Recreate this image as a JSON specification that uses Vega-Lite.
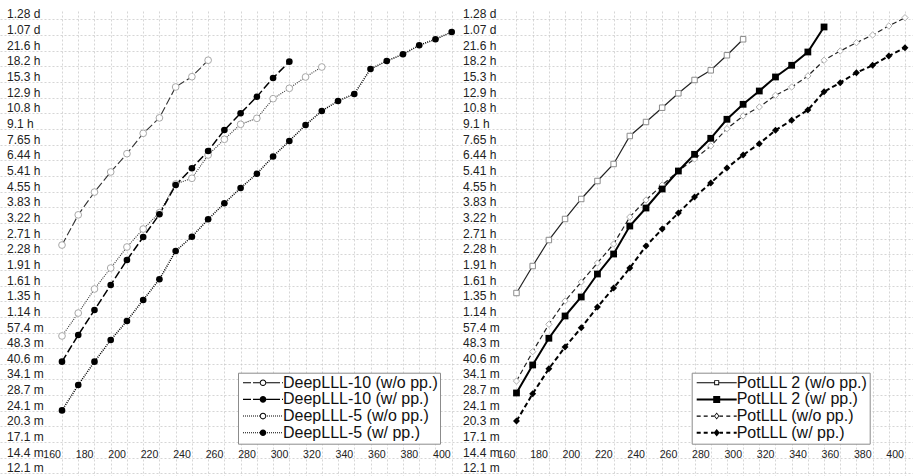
{
  "$schema": "https://vega.github.io/schema/vega-lite/v6.json",
  "background": "white",
  "padding": {"left": 0, "right": 0, "top": 7, "bottom": 0},
  "spacing": 0,
  "resolve": {"scale": {"shape": "independent"}, "legend": {"shape": "independent"}},
  "config": {
    "view": {"stroke": null},
    "font": "Liberation Sans",
    "axis": {
      "labelFont": "Liberation Sans",
      "labelFontSize": 12,
      "labelColor": "#222222",
      "grid": true,
      "gridColor": "#c4c4c4",
      "gridDash": [2, 2],
      "gridWidth": 0.7,
      "domain": false,
      "ticks": false,
      "tickSize": 0,
      "labelOverlap": false,
      "labelFlush": false
    },
    "axisX": {"labelAlign": "right", "labelBaseline": "middle", "labelPadding": -23, "labelOffset": -1.5, "labelFontSize": 10.6},
    "axisY": {"labelAlign": "left", "labelBaseline": "middle", "labelPadding": -6.5, "labelOffset": -5.5}
  },
  "datasets": {
    "deep": [
      {"s": "DeepLLL-10 (w/o pp.)", "n": 160, "h": 2.52},
      {"s": "DeepLLL-10 (w/o pp.)", "n": 170, "h": 3.52},
      {"s": "DeepLLL-10 (w/o pp.)", "n": 180, "h": 4.53},
      {"s": "DeepLLL-10 (w/o pp.)", "n": 190, "h": 5.66},
      {"s": "DeepLLL-10 (w/o pp.)", "n": 200, "h": 6.93},
      {"s": "DeepLLL-10 (w/o pp.)", "n": 210, "h": 8.68},
      {"s": "DeepLLL-10 (w/o pp.)", "n": 220, "h": 10.3},
      {"s": "DeepLLL-10 (w/o pp.)", "n": 230, "h": 14.5},
      {"s": "DeepLLL-10 (w/o pp.)", "n": 240, "h": 16.25},
      {"s": "DeepLLL-10 (w/o pp.)", "n": 250, "h": 19.5},
      {"s": "DeepLLL-10 (w/ pp.)", "n": 160, "h": 0.693},
      {"s": "DeepLLL-10 (w/ pp.)", "n": 170, "h": 0.931},
      {"s": "DeepLLL-10 (w/ pp.)", "n": 180, "h": 1.228},
      {"s": "DeepLLL-10 (w/ pp.)", "n": 190, "h": 1.619},
      {"s": "DeepLLL-10 (w/ pp.)", "n": 200, "h": 2.136},
      {"s": "DeepLLL-10 (w/ pp.)", "n": 210, "h": 2.754},
      {"s": "DeepLLL-10 (w/ pp.)", "n": 220, "h": 3.542},
      {"s": "DeepLLL-10 (w/ pp.)", "n": 230, "h": 4.899},
      {"s": "DeepLLL-10 (w/ pp.)", "n": 240, "h": 5.894},
      {"s": "DeepLLL-10 (w/ pp.)", "n": 250, "h": 7.139},
      {"s": "DeepLLL-10 (w/ pp.)", "n": 260, "h": 9.006},
      {"s": "DeepLLL-10 (w/ pp.)", "n": 270, "h": 10.84},
      {"s": "DeepLLL-10 (w/ pp.)", "n": 280, "h": 13.02},
      {"s": "DeepLLL-10 (w/ pp.)", "n": 290, "h": 16.02},
      {"s": "DeepLLL-10 (w/ pp.)", "n": 300, "h": 19.19},
      {"s": "DeepLLL-5 (w/o pp.)", "n": 160, "h": 0.921},
      {"s": "DeepLLL-5 (w/o pp.)", "n": 170, "h": 1.187},
      {"s": "DeepLLL-5 (w/o pp.)", "n": 180, "h": 1.549},
      {"s": "DeepLLL-5 (w/o pp.)", "n": 190, "h": 1.954},
      {"s": "DeepLLL-5 (w/o pp.)", "n": 200, "h": 2.466},
      {"s": "DeepLLL-5 (w/o pp.)", "n": 210, "h": 3.009},
      {"s": "DeepLLL-5 (w/o pp.)", "n": 220, "h": 3.605},
      {"s": "DeepLLL-5 (w/o pp.)", "n": 230, "h": 4.954},
      {"s": "DeepLLL-5 (w/o pp.)", "n": 240, "h": 5.277},
      {"s": "DeepLLL-5 (w/o pp.)", "n": 250, "h": 6.829},
      {"s": "DeepLLL-5 (w/o pp.)", "n": 260, "h": 8.126},
      {"s": "DeepLLL-5 (w/o pp.)", "n": 270, "h": 9.594},
      {"s": "DeepLLL-5 (w/o pp.)", "n": 280, "h": 10.25},
      {"s": "DeepLLL-5 (w/o pp.)", "n": 290, "h": 12.74},
      {"s": "DeepLLL-5 (w/o pp.)", "n": 300, "h": 14.29},
      {"s": "DeepLLL-5 (w/o pp.)", "n": 310, "h": 16.2},
      {"s": "DeepLLL-5 (w/o pp.)", "n": 320, "h": 18.09},
      {"s": "DeepLLL-5 (w/ pp.)", "n": 160, "h": 0.404},
      {"s": "DeepLLL-5 (w/ pp.)", "n": 170, "h": 0.535},
      {"s": "DeepLLL-5 (w/ pp.)", "n": 180, "h": 0.693},
      {"s": "DeepLLL-5 (w/ pp.)", "n": 190, "h": 0.881},
      {"s": "DeepLLL-5 (w/ pp.)", "n": 200, "h": 1.087},
      {"s": "DeepLLL-5 (w/ pp.)", "n": 210, "h": 1.372},
      {"s": "DeepLLL-5 (w/ pp.)", "n": 220, "h": 1.725},
      {"s": "DeepLLL-5 (w/ pp.)", "n": 230, "h": 2.359},
      {"s": "DeepLLL-5 (w/ pp.)", "n": 240, "h": 2.764},
      {"s": "DeepLLL-5 (w/ pp.)", "n": 250, "h": 3.352},
      {"s": "DeepLLL-5 (w/ pp.)", "n": 260, "h": 4.001},
      {"s": "DeepLLL-5 (w/ pp.)", "n": 270, "h": 4.739},
      {"s": "DeepLLL-5 (w/ pp.)", "n": 280, "h": 5.552},
      {"s": "DeepLLL-5 (w/ pp.)", "n": 290, "h": 6.716},
      {"s": "DeepLLL-5 (w/ pp.)", "n": 300, "h": 7.974},
      {"s": "DeepLLL-5 (w/ pp.)", "n": 310, "h": 9.52},
      {"s": "DeepLLL-5 (w/ pp.)", "n": 320, "h": 11.12},
      {"s": "DeepLLL-5 (w/ pp.)", "n": 330, "h": 12.42},
      {"s": "DeepLLL-5 (w/ pp.)", "n": 340, "h": 13.42},
      {"s": "DeepLLL-5 (w/ pp.)", "n": 350, "h": 17.7},
      {"s": "DeepLLL-5 (w/ pp.)", "n": 360, "h": 19.34},
      {"s": "DeepLLL-5 (w/ pp.)", "n": 370, "h": 20.83},
      {"s": "DeepLLL-5 (w/ pp.)", "n": 380, "h": 23.01},
      {"s": "DeepLLL-5 (w/ pp.)", "n": 390, "h": 24.59},
      {"s": "DeepLLL-5 (w/ pp.)", "n": 400, "h": 26.66}
    ],
    "pot": [
      {"s": "PotLLL 2 (w/o pp.)", "n": 160, "h": 1.482},
      {"s": "PotLLL 2 (w/o pp.)", "n": 170, "h": 1.998},
      {"s": "PotLLL 2 (w/o pp.)", "n": 180, "h": 2.664},
      {"s": "PotLLL 2 (w/o pp.)", "n": 190, "h": 3.363},
      {"s": "PotLLL 2 (w/o pp.)", "n": 200, "h": 4.196},
      {"s": "PotLLL 2 (w/o pp.)", "n": 210, "h": 5.121},
      {"s": "PotLLL 2 (w/o pp.)", "n": 220, "h": 6.182},
      {"s": "PotLLL 2 (w/o pp.)", "n": 230, "h": 8.428},
      {"s": "PotLLL 2 (w/o pp.)", "n": 240, "h": 9.841},
      {"s": "PotLLL 2 (w/o pp.)", "n": 250, "h": 11.53},
      {"s": "PotLLL 2 (w/o pp.)", "n": 260, "h": 13.52},
      {"s": "PotLLL 2 (w/o pp.)", "n": 270, "h": 15.67},
      {"s": "PotLLL 2 (w/o pp.)", "n": 280, "h": 17.44},
      {"s": "PotLLL 2 (w/o pp.)", "n": 290, "h": 20.6},
      {"s": "PotLLL 2 (w/o pp.)", "n": 300, "h": 24.59},
      {"s": "PotLLL 2 (w/ pp.)", "n": 160, "h": 0.49},
      {"s": "PotLLL 2 (w/ pp.)", "n": 170, "h": 0.668},
      {"s": "PotLLL 2 (w/ pp.)", "n": 180, "h": 0.898},
      {"s": "PotLLL 2 (w/ pp.)", "n": 190, "h": 1.149},
      {"s": "PotLLL 2 (w/ pp.)", "n": 200, "h": 1.418},
      {"s": "PotLLL 2 (w/ pp.)", "n": 210, "h": 1.829},
      {"s": "PotLLL 2 (w/ pp.)", "n": 220, "h": 2.282},
      {"s": "PotLLL 2 (w/ pp.)", "n": 230, "h": 3.111},
      {"s": "PotLLL 2 (w/ pp.)", "n": 240, "h": 3.797},
      {"s": "PotLLL 2 (w/ pp.)", "n": 250, "h": 4.687},
      {"s": "PotLLL 2 (w/ pp.)", "n": 260, "h": 5.72},
      {"s": "PotLLL 2 (w/ pp.)", "n": 270, "h": 6.882},
      {"s": "PotLLL 2 (w/ pp.)", "n": 280, "h": 8.216},
      {"s": "PotLLL 2 (w/ pp.)", "n": 290, "h": 10.14},
      {"s": "PotLLL 2 (w/ pp.)", "n": 300, "h": 11.97},
      {"s": "PotLLL 2 (w/ pp.)", "n": 310, "h": 13.87},
      {"s": "PotLLL 2 (w/ pp.)", "n": 320, "h": 16.2},
      {"s": "PotLLL 2 (w/ pp.)", "n": 330, "h": 18.44},
      {"s": "PotLLL 2 (w/ pp.)", "n": 340, "h": 21.36},
      {"s": "PotLLL 2 (w/ pp.)", "n": 350, "h": 28.18},
      {"s": "PotLLL (w/o pp.)", "n": 160, "h": 0.559},
      {"s": "PotLLL (w/o pp.)", "n": 170, "h": 0.774},
      {"s": "PotLLL (w/o pp.)", "n": 180, "h": 1.048},
      {"s": "PotLLL (w/o pp.)", "n": 190, "h": 1.356},
      {"s": "PotLLL (w/o pp.)", "n": 200, "h": 1.674},
      {"s": "PotLLL (w/o pp.)", "n": 210, "h": 2.066},
      {"s": "PotLLL (w/o pp.)", "n": 220, "h": 2.549},
      {"s": "PotLLL (w/o pp.)", "n": 230, "h": 3.437},
      {"s": "PotLLL (w/o pp.)", "n": 240, "h": 4.15},
      {"s": "PotLLL (w/o pp.)", "n": 250, "h": 4.899},
      {"s": "PotLLL (w/o pp.)", "n": 260, "h": 5.72},
      {"s": "PotLLL (w/o pp.)", "n": 270, "h": 6.534},
      {"s": "PotLLL (w/o pp.)", "n": 280, "h": 7.545},
      {"s": "PotLLL (w/o pp.)", "n": 290, "h": 9.137},
      {"s": "PotLLL (w/o pp.)", "n": 300, "h": 10.52},
      {"s": "PotLLL (w/o pp.)", "n": 310, "h": 11.62},
      {"s": "PotLLL (w/o pp.)", "n": 320, "h": 13.23},
      {"s": "PotLLL (w/o pp.)", "n": 330, "h": 14.5},
      {"s": "PotLLL (w/o pp.)", "n": 340, "h": 16.38},
      {"s": "PotLLL (w/o pp.)", "n": 350, "h": 19.49},
      {"s": "PotLLL (w/o pp.)", "n": 360, "h": 21.6},
      {"s": "PotLLL (w/o pp.)", "n": 370, "h": 23.68},
      {"s": "PotLLL (w/o pp.)", "n": 380, "h": 25.79},
      {"s": "PotLLL (w/o pp.)", "n": 390, "h": 28.49},
      {"s": "PotLLL (w/o pp.)", "n": 400, "h": 31.23},
      {"s": "PotLLL (w/ pp.)", "n": 160, "h": 0.359},
      {"s": "PotLLL (w/ pp.)", "n": 170, "h": 0.486},
      {"s": "PotLLL (w/ pp.)", "n": 180, "h": 0.641},
      {"s": "PotLLL (w/ pp.)", "n": 190, "h": 0.815},
      {"s": "PotLLL (w/ pp.)", "n": 200, "h": 1.009},
      {"s": "PotLLL (w/ pp.)", "n": 210, "h": 1.269},
      {"s": "PotLLL (w/ pp.)", "n": 220, "h": 1.566},
      {"s": "PotLLL (w/ pp.)", "n": 230, "h": 1.954},
      {"s": "PotLLL (w/ pp.)", "n": 240, "h": 2.494},
      {"s": "PotLLL (w/ pp.)", "n": 250, "h": 3.009},
      {"s": "PotLLL (w/ pp.)", "n": 260, "h": 3.593},
      {"s": "PotLLL (w/ pp.)", "n": 270, "h": 4.29},
      {"s": "PotLLL (w/ pp.)", "n": 280, "h": 5.009},
      {"s": "PotLLL (w/ pp.)", "n": 290, "h": 5.914},
      {"s": "PotLLL (w/ pp.)", "n": 300, "h": 6.829},
      {"s": "PotLLL (w/ pp.)", "n": 310, "h": 7.739},
      {"s": "PotLLL (w/ pp.)", "n": 320, "h": 8.977},
      {"s": "PotLLL (w/ pp.)", "n": 330, "h": 10.03},
      {"s": "PotLLL (w/ pp.)", "n": 340, "h": 11.24},
      {"s": "PotLLL (w/ pp.)", "n": 350, "h": 13.76},
      {"s": "PotLLL (w/ pp.)", "n": 360, "h": 15.21},
      {"s": "PotLLL (w/ pp.)", "n": 370, "h": 16.99},
      {"s": "PotLLL (w/ pp.)", "n": 380, "h": 18.44},
      {"s": "PotLLL (w/ pp.)", "n": 390, "h": 20.44},
      {"s": "PotLLL (w/ pp.)", "n": 400, "h": 22.4}
    ]
  },
  "hconcat": [
    {
      "width": 456,
      "height": 466,
      "data": {"name": "deep"},
      "encoding": {
        "x": {
          "field": "n", "type": "quantitative",
          "scale": {"domain": [121.82, 402.65], "nice": false, "zero": false},
          "axis": {"title": null, "values": [160,170,180,190,200,210,220,230,240,250,260,270,280,290,300,310,320,330,340,350,360,370,380,390,400], "labelExpr": "datum.value % 20 === 0 ? datum.label : ''"}
        },
        "y": {
          "field": "h", "type": "quantitative",
          "scale": {"type": "log", "domain": [0.19327, 33.63], "nice": false},
          "axis": {"title": null, "values": [0.201133,0.239188,0.284444,0.338264,0.402265,0.478377,0.568889,0.676528,0.80453,0.956753,1.137778,1.353056,1.609061,1.913506,2.275556,2.706108,3.218122,3.827025,4.551111,5.412222,6.43625,7.654028,9.102222,10.82442,12.8725,15.30808,18.20444,21.64886,25.74497,30.61617],
            "labelExpr": "datum.value < 1 ? format(datum.value * 60, '.3~r') + ' m' : datum.value < 24 ? format(datum.value, '.3~r') + ' h' : format(datum.value / 24, '.3~r') + ' d'"}
        }
      },
      "layer": [
        {
          "transform": [{"filter": {"field": "s", "equal": "DeepLLL-10 (w/o pp.)"}}],
          "mark": {"type": "line", "stroke": "#333333", "strokeWidth": 1.1, "strokeDash": [8, 3]}
        },
        {
          "transform": [{"filter": {"field": "s", "equal": "DeepLLL-5 (w/o pp.)"}}],
          "mark": {"type": "line", "stroke": "#333333", "strokeWidth": 1.1, "strokeDash": [1, 1.2]}
        },
        {
          "transform": [{"filter": {"field": "s", "equal": "DeepLLL-10 (w/ pp.)"}}],
          "mark": {"type": "line", "stroke": "#000000", "strokeWidth": 1.5, "strokeDash": [8, 3]}
        },
        {
          "transform": [{"filter": {"field": "s", "equal": "DeepLLL-5 (w/ pp.)"}}],
          "mark": {"type": "line", "stroke": "#000000", "strokeWidth": 1.5, "strokeDash": [1, 1.2]}
        },
        {
          "transform": [{"filter": {"field": "s", "oneOf": ["DeepLLL-10 (w/o pp.)", "DeepLLL-5 (w/o pp.)"]}}],
          "mark": {"type": "point", "shape": "circle", "filled": true, "fill": "white", "stroke": "#a8a8a8", "strokeWidth": 1, "size": 45, "opacity": 1}
        },
        {
          "transform": [{"filter": {"field": "s", "oneOf": ["DeepLLL-10 (w/ pp.)", "DeepLLL-5 (w/ pp.)"]}}],
          "mark": {"type": "point", "shape": "circle", "filled": true, "fill": "black", "size": 44, "opacity": 1}
        },
        {
          "transform": [{"filter": "false"}],
          "mark": {"type": "point", "filled": true, "fill": "black", "size": 100, "opacity": 1},
          "encoding": {
            "shape": {
              "field": "s", "type": "nominal",
              "scale": {
                "domain": ["DeepLLL-10 (w/o pp.)", "DeepLLL-10 (w/ pp.)", "DeepLLL-5 (w/o pp.)", "DeepLLL-5 (w/ pp.)"],
                "range": [
                  "M-1,-0.11H0.6V0.11H-1ZM1,-0.11H2.34V0.11H1ZM3.66,-0.11H6.4V0.11H3.66ZM6.8,-0.11H7V0.11H6.8ZM3.66,0A0.66,0.66,0,1,0,2.34,0A0.66,0.66,0,1,0,3.66,0ZM3.46,0A0.46,0.46,0,1,1,2.54,0A0.46,0.46,0,1,1,3.46,0Z",
                  "M-1,-0.13H0.6V0.13H-1ZM1,-0.13H2.34V0.13H1ZM3.66,-0.13H6.4V0.13H3.66ZM6.8,-0.13H7V0.13H6.8ZM3.66,0A0.66,0.66,0,1,0,2.34,0A0.66,0.66,0,1,0,3.66,0Z",
                  "M-1,-0.1H-0.8V0.1H-1ZM-0.6,-0.1H-0.4V0.1H-0.6ZM-0.2,-0.1H0V0.1H-0.2ZM0.2,-0.1H0.4V0.1H0.2ZM0.6,-0.1H0.8V0.1H0.6ZM1,-0.1H1.2V0.1H1ZM1.4,-0.1H1.6V0.1H1.4ZM1.8,-0.1H2V0.1H1.8ZM2.2,-0.1H2.34V0.1H2.2ZM3.8,-0.1H4V0.1H3.8ZM4.2,-0.1H4.4V0.1H4.2ZM4.6,-0.1H4.8V0.1H4.6ZM5,-0.1H5.2V0.1H5ZM5.4,-0.1H5.6V0.1H5.4ZM5.8,-0.1H6V0.1H5.8ZM6.2,-0.1H6.4V0.1H6.2ZM6.6,-0.1H6.8V0.1H6.6ZM3.66,0A0.66,0.66,0,1,0,2.34,0A0.66,0.66,0,1,0,3.66,0ZM3.46,0A0.46,0.46,0,1,1,2.54,0A0.46,0.46,0,1,1,3.46,0Z",
                  "M-1,-0.1H-0.8V0.1H-1ZM-0.6,-0.1H-0.4V0.1H-0.6ZM-0.2,-0.1H0V0.1H-0.2ZM0.2,-0.1H0.4V0.1H0.2ZM0.6,-0.1H0.8V0.1H0.6ZM1,-0.1H1.2V0.1H1ZM1.4,-0.1H1.6V0.1H1.4ZM1.8,-0.1H2V0.1H1.8ZM2.2,-0.1H2.34V0.1H2.2ZM3.8,-0.1H4V0.1H3.8ZM4.2,-0.1H4.4V0.1H4.2ZM4.6,-0.1H4.8V0.1H4.6ZM5,-0.1H5.2V0.1H5ZM5.4,-0.1H5.6V0.1H5.4ZM5.8,-0.1H6V0.1H5.8ZM6.2,-0.1H6.4V0.1H6.2ZM6.6,-0.1H6.8V0.1H6.6ZM3.66,0A0.66,0.66,0,1,0,2.34,0A0.66,0.66,0,1,0,3.66,0Z"
                ]
              },
              "legend": {
                "title": null, "orient": "none", "legendX": 238, "legendY": 361.7,
                "padding": 2, "strokeColor": "#8c8c8c", "fillColor": "white",
                "labelFont": "Liberation Sans", "labelFontSize": 16, "labelColor": "#111111", "labelLimit": 400,
                "symbolSize": 100, "symbolOffset": 0, "labelOffset": 27, "rowPadding": 0.7
              }
            }
          }
        }
      ]
    },
    {
      "width": 457,
      "height": 466,
      "data": {"name": "pot"},
      "encoding": {
        "x": {
          "field": "n", "type": "quantitative",
          "scale": {"domain": [122.63, 404.95], "nice": false, "zero": false},
          "axis": {"title": null, "values": [160,170,180,190,200,210,220,230,240,250,260,270,280,290,300,310,320,330,340,350,360,370,380,390,400], "labelExpr": "datum.value % 20 === 0 ? datum.label : ''"}
        },
        "y": {
          "field": "h", "type": "quantitative",
          "scale": {"type": "log", "domain": [0.19327, 33.63], "nice": false},
          "axis": {"title": null, "values": [0.201133,0.239188,0.284444,0.338264,0.402265,0.478377,0.568889,0.676528,0.80453,0.956753,1.137778,1.353056,1.609061,1.913506,2.275556,2.706108,3.218122,3.827025,4.551111,5.412222,6.43625,7.654028,9.102222,10.82442,12.8725,15.30808,18.20444,21.64886,25.74497,30.61617],
            "labelExpr": "datum.value < 1 ? format(datum.value * 60, '.3~r') + ' m' : datum.value < 24 ? format(datum.value, '.3~r') + ' h' : format(datum.value / 24, '.3~r') + ' d'"}
        }
      },
      "layer": [
        {
          "transform": [{"filter": {"field": "s", "equal": "PotLLL 2 (w/o pp.)"}}],
          "mark": {"type": "line", "stroke": "#222222", "strokeWidth": 1.2}
        },
        {
          "transform": [{"filter": {"field": "s", "equal": "PotLLL (w/o pp.)"}}],
          "mark": {"type": "line", "stroke": "#222222", "strokeWidth": 1.2, "strokeDash": [5, 3]}
        },
        {
          "transform": [{"filter": {"field": "s", "equal": "PotLLL 2 (w/ pp.)"}}],
          "mark": {"type": "line", "stroke": "#000000", "strokeWidth": 2}
        },
        {
          "transform": [{"filter": {"field": "s", "equal": "PotLLL (w/ pp.)"}}],
          "mark": {"type": "line", "stroke": "#000000", "strokeWidth": 2, "strokeDash": [5, 3]}
        },
        {
          "transform": [{"filter": {"field": "s", "equal": "PotLLL 2 (w/o pp.)"}}],
          "mark": {"type": "point", "shape": "square", "filled": true, "fill": "white", "stroke": "#8c8c8c", "strokeWidth": 1, "size": 30, "opacity": 1}
        },
        {
          "transform": [{"filter": {"field": "s", "equal": "PotLLL (w/o pp.)"}}],
          "mark": {"type": "point", "shape": "diamond", "filled": true, "fill": "white", "stroke": "#b0b0b0", "strokeWidth": 1, "size": 40, "opacity": 1}
        },
        {
          "transform": [{"filter": {"field": "s", "equal": "PotLLL 2 (w/ pp.)"}}],
          "mark": {"type": "point", "shape": "square", "filled": true, "fill": "black", "size": 46, "opacity": 1}
        },
        {
          "transform": [{"filter": {"field": "s", "equal": "PotLLL (w/ pp.)"}}],
          "mark": {"type": "point", "shape": "diamond", "filled": true, "fill": "black", "size": 48, "opacity": 1}
        },
        {
          "transform": [{"filter": "false"}],
          "mark": {"type": "point", "filled": true, "fill": "black", "size": 100, "opacity": 1},
          "encoding": {
            "shape": {
              "field": "s", "type": "nominal",
              "scale": {
                "domain": ["PotLLL 2 (w/o pp.)", "PotLLL 2 (w/ pp.)", "PotLLL (w/o pp.)", "PotLLL (w/ pp.)"],
                "range": [
                  "M-1,-0.11H2.5V0.11H-1ZM3.5,-0.11H7V0.11H3.5ZM2.5,-0.5H3.5V0.5H2.5ZM2.68,-0.32V0.32H3.32V-0.32Z",
                  "M-1,-0.2H2.3V0.2H-1ZM3.7,-0.2H7V0.2H3.7ZM2.3,-0.7H3.7V0.7H2.3Z",
                  "M-1,-0.11H-0.2V0.11H-1ZM0.4,-0.11H1.2V0.11H0.4ZM1.86,-0.11H2.45V0.11H1.86ZM3.55,-0.11H4.26V0.11H3.55ZM4.92,-0.11H5.72V0.11H4.92ZM6.4,-0.11H7V0.11H6.4ZM3,-0.7L3.55,0L3,0.7L2.45,0ZM3,-0.45L2.65,0L3,0.45L3.35,0Z",
                  "M-1,-0.2H-0.2V0.2H-1ZM0.4,-0.2H1.2V0.2H0.4ZM1.86,-0.2H2.4V0.2H1.86ZM3.6,-0.2H4.26V0.2H3.6ZM4.92,-0.2H5.72V0.2H4.92ZM6.4,-0.2H7V0.2H6.4ZM3,-0.75L3.62,0L3,0.75L2.38,0Z"
                ]
              },
              "legend": {
                "title": null, "orient": "none", "legendX": 235.7, "legendY": 361.7,
                "padding": 2, "strokeColor": "#8c8c8c", "fillColor": "white",
                "labelFont": "Liberation Sans", "labelFontSize": 16, "labelColor": "#111111", "labelLimit": 400,
                "symbolSize": 100, "symbolOffset": 0, "labelOffset": 27, "rowPadding": 0.7
              }
            }
          }
        }
      ]
    }
  ]
}
